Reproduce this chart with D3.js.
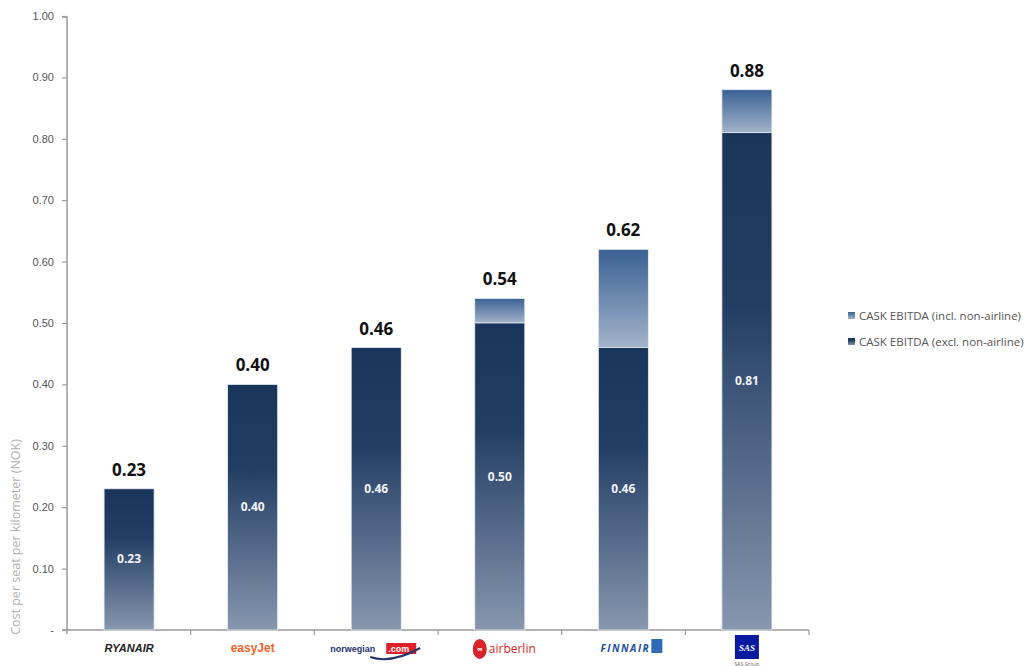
<!DOCTYPE html>
<html>
<head>
<meta charset="utf-8">
<script src="https://cdn.jsdelivr.net/npm/d3@7"></script>
<style>
  body { margin: 0; background: #fff; }
  svg { display: block; font-family: "Open Sans", "DejaVu Sans", sans-serif; }
</style>
</head>
<body>
<svg id="chart" width="1029" height="666"></svg>
<script>
const airlines = ["Ryanair", "easyJet", "Norwegian", "airberlin", "Finnair", "SAS"];
const caskExcl = [0.23, 0.40, 0.46, 0.50, 0.46, 0.81];
const caskIncl = [0.23, 0.40, 0.46, 0.54, 0.62, 0.88];
const yTicks = [0, 0.1, 0.2, 0.3, 0.4, 0.5, 0.6, 0.7, 0.8, 0.9, 1.0];
const seriesNames = ["CASK EBITDA (incl. non-airline)", "CASK EBITDA (excl. non-airline)"];

const svg = d3.select("#chart");
const x0 = 67, x1 = 809, yTop = 16, yBase = 630;

const x = d3.scaleBand().domain(airlines).range([x0, x1]).paddingInner(0.595).paddingOuter(0.3);
const y = d3.scaleLinear().domain([0, 1]).range([yBase, yTop]);

const defs = svg.append("defs");
const gDark = defs.append("linearGradient").attr("id", "gDark").attr("x1", 0).attr("y1", 0).attr("x2", 0).attr("y2", 1);
gDark.append("stop").attr("offset", "0%").attr("stop-color", "#1a355c");
gDark.append("stop").attr("offset", "35%").attr("stop-color", "#233e65");
gDark.append("stop").attr("offset", "100%").attr("stop-color", "#8797ae");
const gLight = defs.append("linearGradient").attr("id", "gLight").attr("x1", 0).attr("y1", 0).attr("x2", 0).attr("y2", 1);
gLight.append("stop").attr("offset", "0%").attr("stop-color", "#3a6193");
gLight.append("stop").attr("offset", "100%").attr("stop-color", "#a3b3ca");

// Y axis
const yAxis = d3.axisLeft(y).tickValues(yTicks).tickSize(5).tickPadding(8)
  .tickFormat(d => d === 0 ? "-" : d3.format(".2f")(d));
const gy = svg.append("g").attr("transform", `translate(${x0},0)`).call(yAxis);
gy.select(".domain").attr("stroke", "#9a9a9a").attr("stroke-width", 1.5)
  .attr("d", `M-5,${yTop + 1}H0V${yBase + 4}`);
gy.selectAll(".tick line").attr("stroke", "#9a9a9a").attr("stroke-width", 1.2);
gy.selectAll(".tick text").attr("fill", "#555").attr("font-size", 11)
  .attr("font-family", "Liberation Sans, Arial, sans-serif");

// X axis
const bounds = [x0].concat(airlines.map((a, i) => x0 + (x1 - x0) * (i + 1) / airlines.length));
svg.append("line").attr("x1", x0 - 5).attr("x2", x1).attr("y1", yBase).attr("y2", yBase)
  .attr("stroke", "#9a9a9a").attr("stroke-width", 1.5);
svg.selectAll(".xtick").data(bounds.slice(1)).join("line")
  .attr("x1", d => d).attr("x2", d => d).attr("y1", yBase).attr("y2", yBase + 5)
  .attr("stroke", "#9a9a9a").attr("stroke-width", 1.2);

// Bars
const data = airlines.map((a, i) => ({ a, excl: caskExcl[i], incl: caskIncl[i] }));
svg.selectAll(".barIncl").data(data.filter(d => d.incl > d.excl)).join("rect")
  .attr("x", d => x(d.a)).attr("width", x.bandwidth())
  .attr("y", d => y(d.incl)).attr("height", d => y(d.excl) - y(d.incl))
  .attr("fill", "url(#gLight)").attr("stroke", "#e8edf3").attr("stroke-width", 0.8);
svg.selectAll(".barExcl").data(data).join("rect")
  .attr("x", d => x(d.a)).attr("width", x.bandwidth())
  .attr("y", d => y(d.excl)).attr("height", d => y(0) - y(d.excl))
  .attr("fill", "url(#gDark)").attr("stroke", "#e8edf3").attr("stroke-width", 0.8);

// Inner labels
svg.selectAll(".lblIn").data(data).join("text")
  .attr("x", d => x(d.a) + x.bandwidth() / 2)
  .attr("y", d => (y(d.excl) + y(0)) / 2 + 4)
  .attr("text-anchor", "middle").attr("fill", "#f2f4f8").attr("font-size", 12).attr("font-weight", "bold")
  .text(d => d3.format(".2f")(d.excl));
// Top labels
svg.selectAll(".lblTop").data(data).join("text")
  .attr("x", d => x(d.a) + x.bandwidth() / 2)
  .attr("y", d => y(d.incl) - 13)
  .attr("text-anchor", "middle").attr("fill", "#111").attr("font-size", 17).attr("font-weight", "bold")
  .text(d => d3.format(".2f")(d.incl));

// Y title
svg.append("text").attr("transform", `translate(20,${537}) rotate(-90)`)
  .attr("text-anchor", "middle").attr("fill", "#b0b0b0").attr("font-size", 12.5)
  .text("Cost per seat per kilometer (NOK)");

// Legend
const legend = svg.append("g").attr("transform", "translate(848,316)");
seriesNames.forEach((n, i) => {
  const g = legend.append("g").attr("transform", `translate(0,${i * 26})`);
  g.append("rect").attr("x", 0).attr("y", -4).attr("width", 7).attr("height", 7)
    .attr("fill", i === 0 ? "url(#gLight)" : "url(#gDark)");
  g.append("text").attr("x", 11).attr("y", 3.5).attr("font-size", 11.5).attr("fill", "#555").text(n);
});

// Logos as text
const ly = 652;
const cx = a => x(a) + x.bandwidth() / 2;
svg.append("text").attr("x", cx("Ryanair")).attr("y", ly).attr("text-anchor", "middle")
  .attr("font-size", 11).attr("font-weight", "bold").attr("font-style", "italic").attr("fill", "#222")
  .attr("font-family", "Liberation Sans, Arial, sans-serif").text("RYANAIR");
svg.append("text").attr("x", cx("easyJet")).attr("y", ly).attr("text-anchor", "middle")
  .attr("font-size", 12).attr("font-weight", "bold").attr("fill", "#f0642a")
  .attr("font-family", "Liberation Sans, Arial, sans-serif").text("easyJet");
const nw = svg.append("g").attr("transform", `translate(${cx("Norwegian")},${ly})`);
nw.append("rect").attr("x", 10).attr("y", -9).attr("width", 30).attr("height", 11).attr("fill", "#e0202a");
nw.append("text").attr("x", -46).attr("y", 0).attr("font-size", 9).attr("font-weight", "bold").attr("fill", "#23346e")
  .attr("font-family", "Liberation Sans, Arial, sans-serif").text("norwegian");
nw.append("text").attr("x", 12).attr("y", 0).attr("font-size", 9).attr("font-weight", "bold").attr("fill", "#fff")
  .attr("font-family", "Liberation Sans, Arial, sans-serif").text(".com");
nw.append("path").attr("d", "M-6,5 Q15,12 44,-4").attr("fill", "none").attr("stroke", "#23346e").attr("stroke-width", 2);
const ab = svg.append("g").attr("transform", `translate(${cx("airberlin")},${ly})`);
ab.append("ellipse").attr("cx", -20).attr("cy", -3).attr("rx", 7).attr("ry", 10).attr("fill", "#d8232a");
ab.append("text").attr("x", -20).attr("y", 0).attr("text-anchor", "middle").attr("font-size", 8).attr("fill", "#fff").attr("font-weight", "bold").text("∞");
ab.append("text").attr("x", -11).attr("y", 1).attr("font-size", 12).attr("fill", "#d8232a").text("airberlin");
const fn = svg.append("g").attr("transform", `translate(${cx("Finnair")},${ly})`);
fn.append("text").attr("x", 2).attr("y", 0).attr("text-anchor", "middle").attr("font-size", 10).attr("font-weight", "bold")
  .attr("font-style", "italic").attr("fill", "#1a4f9e").attr("letter-spacing", 1.5).text("FINNAIR");
fn.append("rect").attr("x", 28).attr("y", -13).attr("width", 11).attr("height", 14).attr("fill", "#2f6ab5");
const sas = svg.append("g").attr("transform", `translate(${cx("SAS")},${ly})`);
sas.append("rect").attr("x", -12).attr("y", -17).attr("width", 24).attr("height", 24).attr("fill", "#0a1aa0");
sas.append("text").attr("x", 0).attr("y", -1).attr("text-anchor", "middle").attr("font-size", 9).attr("font-weight", "bold")
  .attr("font-style", "italic").attr("fill", "#fff").attr("font-family", "Liberation Serif, serif").text("SAS");
sas.append("text").attr("x", 0).attr("y", 14).attr("text-anchor", "middle").attr("font-size", 5).attr("fill", "#666").text("SAS Group");
</script>
</body>
</html>
